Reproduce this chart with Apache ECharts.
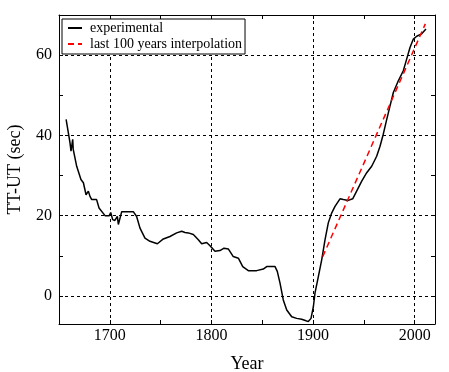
<!DOCTYPE html>
<html><head><meta charset="utf-8">
<script src="https://cdn.jsdelivr.net/npm/echarts@6/dist/echarts.min.js"></script>
<style>html,body{margin:0;padding:0;background:#fff}#c{width:449px;height:372px}</style>
</head><body><div id="c"></div>
<script>
const expYears = [1657,1658.5,1660.8,1661.8,1663.5,1664,1667.4,1671.6,1674,1676.6,1678.9,1680.5,1682.2,1687,1689.4,1695.3,1699.5,1700.9,1702.8,1705,1707.4,1708.4,1710.7,1711.7,1723.1,1726.4,1729.7,1734.6,1739.5,1746.8,1752.7,1759.2,1765.8,1770.7,1774,1777.3,1782.2,1787.1,1790.4,1795.3,1798.6,1803.5,1808.4,1812.4,1816.6,1821.5,1826.5,1830.8,1836.3,1844.5,1851,1854.4,1859.3,1862.6,1864.8,1867.5,1870.7,1874.1,1879,1883.9,1888.8,1893.1,1895.3,1898,1900.3,1901.9,1905.2,1908.5,1911.8,1915,1918.4,1921.6,1926.5,1929.8,1934.7,1939,1942.9,1947.9,1952.8,1957.7,1962.6,1965.9,1969.1,1972.5,1975.7,1979,1983.9,1988.8,1992.1,1995.4,1998.7,2002,2006.9,2011.1];
const expValues = [44,43.6,38.2,36.1,39,36.5,32.3,29,28.2,25.2,26.1,24.8,24,24,21.9,20,20,20.8,19,18.8,19.8,17.8,20,21,21,19.8,16.9,14.4,13.6,13,14.2,14.8,15.7,16.1,15.8,15.7,15.3,14,13,13.3,12.5,11.1,11.3,11.9,11.7,9.8,9.4,7.3,6.3,6.3,6.7,7.3,7.3,7.3,6.1,3.2,-1,-3.5,-5.2,-5.6,-5.8,-6.2,-6.4,-5.6,-2.7,0.7,4.8,9,14,18.2,20.7,22.3,24.2,24,23.8,24.2,26.1,28.6,30.7,32.3,34.8,37.3,40.3,44,47.3,50.7,53.6,56.1,59,61.9,64,64.7,65.3,66.5];
const fitYears = [1909.5, 2010.5];
const fitValues = [9.8, 67.8];
const xTickValues = [1700,1750,1800,1850,1900,1950,2000];
const xLabelValues = [1700,1800,1900,2000];
const yTickValues = [0,10,20,30,40,50,60];
const yLabelValues = [0,20,40,60];
const seriesNames = ['experimental','last 100 years interpolation'];

const FONT = 'Liberation Serif';
const zip = (a,b) => a.map((v,i)=>[v,b[i]]);
const chart = echarts.init(document.getElementById('c'), null, {renderer:'canvas'});
const xBase = {type:'value', min:1650, max:2020,
  axisLine:{show:true, onZero:false, lineStyle:{color:'#000', width:1}},
  axisTick:{show:true, inside:true, length:4, customValues:xTickValues, lineStyle:{color:'#000'}},
  splitLine:{show:false}};
const yBase = {type:'value', min:-7, max:70,
  axisLine:{show:true, onZero:false, lineStyle:{color:'#000', width:1}},
  axisTick:{show:true, inside:true, length:4, customValues:yTickValues, lineStyle:{color:'#000'}},
  splitLine:{show:false}};
chart.setOption({
  animation:false,
  backgroundColor:'#fff',
  grid:{left:59, right:14, top:15, bottom:48, containLabel:false, outerBoundsMode:'none'},
  legend:{
    data:seriesNames, orient:'vertical', left:62, top:19, z:20,
    backgroundColor:'#fff', borderColor:'#000', borderWidth:1,
    padding:[1,3,2,5], itemGap:0, itemWidth:14, itemHeight:10,
    itemStyle:{color:'rgba(0,0,0,0)', borderWidth:0, opacity:0},
    textStyle:{fontFamily:FONT, fontSize:14, color:'#000', lineHeight:16, padding:[0,0,0,3]}
  },
  xAxis:[
    Object.assign({}, xBase, {position:'bottom', name:'Year', nameLocation:'middle', nameGap:31,
      nameTextStyle:{fontFamily:FONT, fontSize:18, color:'#000'},
      axisLabel:{show:true, customValues:xLabelValues, margin:4, fontFamily:FONT, fontSize:16, color:'#000',
        formatter:v=>String(v)}}),
    Object.assign({}, xBase, {position:'top', axisLabel:{show:false}})
  ],
  yAxis:[
    Object.assign({}, yBase, {position:'left', name:'TT-UT (sec)', nameLocation:'middle', nameGap:35, nameRotate:90,
      nameTextStyle:{fontFamily:FONT, fontSize:18, color:'#000'},
      axisLabel:{show:true, customValues:yLabelValues, margin:7, fontFamily:FONT, fontSize:16, color:'#000',
        formatter:v=>String(v)}}),
    Object.assign({}, yBase, {position:'right', axisLabel:{show:false}})
  ],
  series:[
    {name:'grid', type:'line', data:[], z:1, silent:true,
      markLine:{silent:true, z:1, symbol:['none','none'], label:{show:false},
        lineStyle:{color:'#000', width:1, type:[3,3]},
        data: xLabelValues.map(v=>({xAxis:v})).concat(yLabelValues.map(v=>({yAxis:v})))}},
    {name:seriesNames[0], type:'line', data:zip(expYears,expValues), symbol:'none', z:3,
      lineStyle:{color:'#000', width:1.5}, itemStyle:{color:'#000'}},
    {name:seriesNames[1], type:'line', data:zip(fitYears,fitValues), symbol:'none', z:4,
      lineStyle:{color:'#ff0000', width:1.5, type:[6,4]}, itemStyle:{color:'#ff0000'}}
  ]
});
</script></body></html>
